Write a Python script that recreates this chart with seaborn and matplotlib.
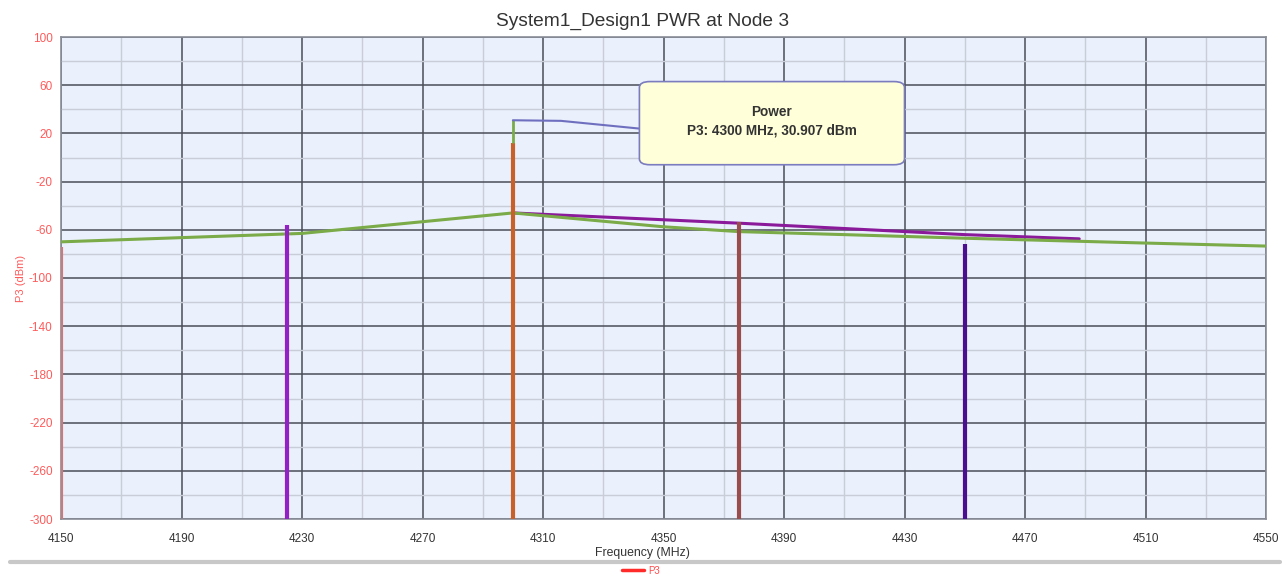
import numpy as np
import pandas as pd
import matplotlib
matplotlib.use("Agg")
import matplotlib.pyplot as plt
import seaborn as sns
from matplotlib.patches import FancyBboxPatch

# ---- data ----
green_freq = [4150, 4230, 4300, 4350, 4375, 4410, 4450, 4510, 4550]
green_dbm = [-70, -63, -46, -57.5, -61.5, -64, -67, -71, -73.5]
purple_freq = [4300, 4375, 4450, 4488]
purple_dbm = [-46, -54.5, -64, -67.5]

spike_freq = [4150, 4225, 4300, 4375, 4450]
spike_top = [-74, -56, 12, -53.5, -72]
spike_colors = ["#c97a7a", "#9320c4", "#c8602a", "#9a4b4b", "#4a0f8e"]

peak_freq = 4300
peak_dbm = 30.907

x_ticks = [4150, 4190, 4230, 4270, 4310, 4350, 4390, 4430, 4470, 4510, 4550]
y_ticks = [100, 60, 20, -20, -60, -100, -140, -180, -220, -260, -300]

sns.set_theme(style="white")
plt.rcParams['font.family'] = ['Liberation Sans', 'DejaVu Sans']
plt.rcParams['axes.unicode_minus'] = False

fig = plt.figure(figsize=(12.87, 5.76), dpi=100)
ax = fig.add_axes([61/1287, 1-519/576, (1266-61)/1287, (519-37)/576])
ax.set_facecolor("#eaf0fc")

ax.set_xlim(4150, 4550)
ax.set_ylim(-300, 100)
ax.set_xticks(x_ticks)
ax.set_yticks(y_ticks)
ax.set_xticks(np.arange(4170, 4550, 40), minor=True)
ax.set_yticks(np.arange(-280, 100, 40), minor=True)
ax.grid(which="major", color="#4a4e58", linewidth=1.1, zorder=1)
ax.grid(which="minor", color="#c9cdd8", linewidth=1.0, zorder=1)
ax.set_axisbelow(True)
for s in ax.spines.values():
    s.set_color("#8a8e98")
    s.set_linewidth(1.2)
ax.tick_params(axis="y", colors="#ff5a5a", labelsize=8.5, length=4, width=1, color="#4a4e58", pad=2)
ax.tick_params(axis="x", colors="#333333", labelsize=8.5, length=4, width=1, color="#4a4e58", pad=6)
ax.tick_params(axis="x", which="minor", length=0)
ax.tick_params(axis="y", which="minor", length=0)
for lab in ax.get_yticklabels():
    lab.set_color("#ff5a5a")

# spikes
ax.vlines(spike_freq, -300, spike_top, colors=spike_colors, linewidth=3, zorder=4)
# green segment on top of the main spike
ax.vlines([peak_freq], spike_top[2], peak_dbm, colors="#7aab48", linewidth=2, zorder=4)

sns.lineplot(x=purple_freq, y=purple_dbm, ax=ax, color="#8b1a9b", linewidth=2.2, zorder=3)
sns.lineplot(x=green_freq, y=green_dbm, ax=ax, color="#7aab48", linewidth=2.2, zorder=3)

# annotation
box_x0, box_x1 = 4342, 4430
box_y0, box_y1 = -6, 63
bb = FancyBboxPatch((box_x0, box_y0), box_x1 - box_x0, box_y1 - box_y0,
                    boxstyle="round,pad=0,rounding_size=3.5", mutation_aspect=1.4,
                    facecolor="#ffffd9", edgecolor="#7b7bbf", linewidth=1.2, zorder=6)
ax.add_patch(bb)
ax.plot([peak_freq, 4316, 4342], [peak_dbm, peak_dbm - 0.5, 24], color="#6f6fc0", linewidth=1.5, zorder=5)
ax.text((box_x0 + box_x1) / 2, 30, "Power\nP3: 4300 MHz, 30.907 dBm", ha="center", va="center",
        fontsize=9.8, fontweight="bold", color="#333333", linespacing=1.45, zorder=7)

ax.set_title("System1_Design1 PWR at Node 3", fontsize=13.8, color="#333333", pad=8,
             x=(643-61)/(1266-61))
ax.set_xlabel("Frequency (MHz)", fontsize=8.8, color="#333333", labelpad=0)
ax.xaxis.set_label_coords((642-61)/(1266-61), -0.058)
ax.set_ylabel("P3 (dBm)", fontsize=8, color="#ff5a5a", labelpad=2)

# bottom separator and legend
fig.add_artist(plt.Line2D([10/1287, 1280/1287], [1-562/576]*2, color="#c8c8c8", linewidth=3))
fig.add_artist(plt.Line2D([622/1287, 644/1287], [1-570/576]*2, color="#ff2a2a", linewidth=2.5))
fig.text(648/1287, 1-571/576, "P3", fontsize=7, color="#ff4a4a", va="center")

fig.savefig("out.png", dpi=100, facecolor="white")
